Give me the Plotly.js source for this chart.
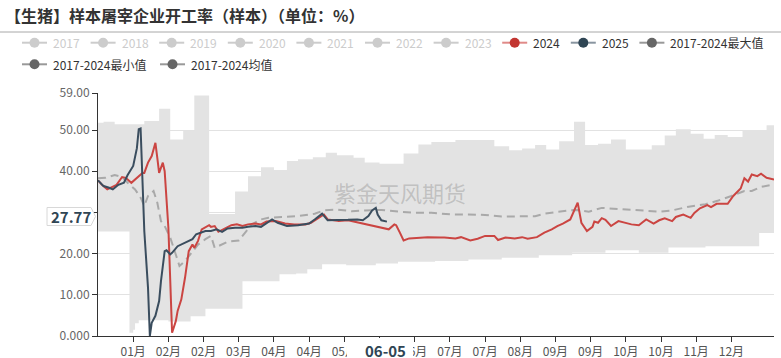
<!DOCTYPE html>
<html>
<head>
<meta charset="utf-8">
<script src="https://cdn.plot.ly/plotly-3.0.1.min.js"></script>
<style>html,body{margin:0;padding:0;background:#fff;}#chart{width:781px;height:358px;}</style>
</head>
<body>
<div id="chart"></div>
<script>
// ---- data (x = day of year, 0 = 01-01) ----
const tickDays = [19,38,57,76,95,114,133,152,171,190,209,228,247,266,285,304,323,342];
const tickLabels = ['01月','02月','02月','03月','04月','04月','05月','','06月','07月','07月','08月','09月','09月','10月','10月','11月','12月'];
const yTickVals = [0,10,20,30,40,50,59];
const yTickLabels = ['0.000','10.00','20.00','','40.00','50.00','59.00'];

const maxDays = [0,3,9,25,33,39,46,52,60,74,81,88,95,102,108,116,123,129,138,144,152,165,173,180,193,214,222,229,236,242,249,257,263,270,277,285,299,306,312,320,327,333,340,348,361,365];
const maxVals = [51.8,52.0,51.4,52.2,55.2,47.7,49.8,58.4,29.6,35.1,38.8,41.0,40.3,42.5,42.9,43.4,44.5,43.9,43.3,42.1,41.8,44.3,46.5,47.1,47.6,46.1,45.1,45.5,46.4,45.3,47.3,52.0,46.4,46.7,47.7,45.3,46.3,48.7,50.2,49.1,47.9,48.8,48.3,50.0,51.2,51.2];

const minDays = [0,17,19,20,22,38,50,58,78,98,107,113,121,134,150,162,182,200,218,238,256,274,292,308,328,357,365];
const minVals = [25.4,0.8,1.5,3.1,3.8,3.5,4.8,6.6,13.3,15.0,15.2,16.2,17.4,17.2,17.6,18.0,18.2,18.6,19.0,19.6,20.2,20.8,20.2,21.5,21.8,25.0,25.0];

const meanDays = [0,4,9,13,16,20,23,25,27,30,32,34,36,39,42,44,47,51,54,58,61,63,67,70,76,79,83,88,92,99,108,117,122,129,137,144,153,162,171,180,191,200,209,218,227,236,241,249,254,259,265,272,280,292,303,310,319,328,335,342,349,353,358,365];
const meanVals = [38.3,38.4,39.1,38.6,37.2,35.6,33.6,31.6,34.0,35.2,32.4,27.9,26.7,23.9,19.8,17.0,18.2,20.6,22.2,23.5,24.3,21.4,22.2,22.9,23.2,24.8,27.1,28.3,28.7,28.9,29.1,29.7,30.5,30.7,30.3,30.5,30.6,30.2,29.9,29.9,29.5,29.5,29.4,29.0,29.1,29.1,29.7,30.2,30.5,30.6,30.2,31.1,30.9,30.5,30.2,30.5,31.4,32.0,32.9,34.0,35.2,35.2,36.2,36.8];

const days2024 = [0,2,5,7,10,13,15,18,21,24,25,27,29,31,32,33,35,36,38,39,40,42,43,45,47,49,51,52,54,56,58,60,61,63,65,69,72,75,78,81,85,88,91,96,101,106,112,115,119,122,124,130,135,141,144,148,152,157,160,161,163,165,168,173,178,185,187,193,196,201,205,209,214,216,220,225,229,232,237,241,245,248,251,255,257,259,261,264,267,268,270,272,274,277,281,285,288,292,296,300,303,306,310,312,316,320,322,325,329,331,334,340,343,347,349,351,353,356,358,361,365];
const vals2024 = [37.8,36.8,35.6,36.0,36.7,38.6,38.4,37.2,38.4,39.6,39.6,42.1,43.7,46.9,43.3,39.6,42.1,40.0,26.3,11.7,0.8,3.6,6.1,8.9,14.2,20.6,22.2,21.4,23.1,25.9,26.3,26.9,26.5,26.7,25.3,26.3,26.9,27.1,26.7,27.1,27.3,27.1,27.8,27.9,27.3,27.1,27.1,27.5,28.7,29.5,28.3,27.9,28.1,27.5,27.1,26.7,26.3,25.9,27.1,26.9,25.1,23.2,23.7,23.9,24.0,23.9,23.9,23.7,24.0,23.2,23.6,24.3,24.3,23.3,23.9,23.7,24.0,23.6,24.0,25.1,25.9,26.7,27.3,28.3,30.3,32.4,27.5,25.5,26.5,27.8,27.5,28.6,28.2,26.7,27.9,27.5,27.1,26.9,28.3,27.3,28.1,28.6,27.9,28.9,29.5,28.7,29.9,31.0,31.8,31.3,32.1,32.1,34.0,35.8,38.3,37.5,39.2,38.8,39.4,38.4,38.0];

const days2025 = [0,3,6,8,11,14,16,19,21,22,23,24,25,27,28,29,31,33,34,36,37,39,40,43,45,48,51,53,56,58,61,64,67,70,74,78,81,85,88,91,94,97,102,108,114,117,121,124,129,135,140,143,146,148,150,151,153,156];
const vals2025 = [37.8,36.4,36.0,35.6,36.7,37.2,39.1,41.3,45.6,50.2,50.4,39.2,25.5,11.7,0.0,3.2,4.9,8.5,13.3,20.6,20.8,19.8,20.2,21.8,22.2,22.9,23.5,24.7,25.1,25.5,25.5,25.9,25.3,26.1,26.3,26.3,26.5,26.7,26.5,27.5,28.3,27.5,26.7,26.9,27.3,28.3,29.7,28.1,28.1,28.2,28.3,28.1,29.1,30.5,31.1,29.5,28.1,27.77];

const legendRow1 = ['2017','2018','2019','2020','2021','2022','2023','2024','2025','2017-2024最大值'];
const legendRow2 = ['2017-2024最小值','2017-2024均值'];

// ---- layout helpers (pixel -> paper) ----
const L = 98, R = 774, T = 93, B = 336;
const xp = px => (px - L) / (R - L);
const yp = py => (B - py) / (B - T);
const FONT = 'Noto Sans CJK SC, sans-serif';

const traces = [
  {x: minDays, y: minVals, mode: 'lines', line: {width: 0, shape: 'hv'}, hoverinfo: 'skip', showlegend: false},
  {x: maxDays, y: maxVals, mode: 'lines', line: {width: 0, shape: 'hv'}, fill: 'tonexty', fillcolor: '#e3e3e3', hoverinfo: 'skip', showlegend: false},
  {x: meanDays, y: meanVals, mode: 'lines', line: {color: '#a9a9a9', width: 2, dash: '8px,5px'}, showlegend: false},
  {x: days2024, y: vals2024, mode: 'lines', line: {color: '#cb4542', width: 2}, showlegend: false},
  {x: days2025, y: vals2025, mode: 'lines', line: {color: '#3a4d5e', width: 2}, showlegend: false}
];

const shapes = [];
const annotations = [];

// separator under title
shapes.push({type: 'line', xref: 'paper', yref: 'paper', x0: xp(0), x1: xp(781), y0: yp(32), y1: yp(32), line: {color: '#a8a8a8', width: 1}});

// legend
function legendItem(s, cy, label, lineColor, dotColor, textColor) {
  shapes.push({type: 'line', xref: 'paper', yref: 'paper', x0: xp(s), x1: xp(s + 25), y0: yp(cy), y1: yp(cy), line: {color: lineColor, width: 2}});
  const cx = s + 12.5;
  shapes.push({type: 'circle', xref: 'paper', yref: 'paper', x0: xp(cx - 5), x1: xp(cx + 5), y0: yp(cy + 5), y1: yp(cy - 5), fillcolor: dotColor, line: {width: 0}});
  annotations.push({xref: 'paper', yref: 'paper', x: xp(s + 29), y: yp(cy), xanchor: 'left', yanchor: 'middle', showarrow: false, text: label, font: {family: FONT, size: 12, color: textColor}});
}
legendRow1.forEach((lab, i) => {
  const s = 22 + 68.6 * i;
  if (i < 7) legendItem(s, 42.7, lab, '#cccccc', '#cccccc', '#cccccc');
  else if (i === 7) legendItem(s, 42.7, lab, '#e08a88', '#c23531', '#333333');
  else if (i === 8) legendItem(s, 42.7, lab, '#8995a0', '#2f4554', '#333333');
  else legendItem(s, 42.7, lab, '#999999', '#666666', '#333333');
});
legendItem(22, 64.3, legendRow2[0], '#999999', '#666666', '#333333');
legendItem(160, 64.3, legendRow2[1], '#999999', '#666666', '#333333');

// watermark
annotations.push({xref: 'paper', yref: 'paper', x: xp(400), y: yp(192), xanchor: 'center', yanchor: 'middle', showarrow: false, text: '紫金天风期货', font: {family: FONT, size: 22, color: 'rgba(150,150,150,0.45)'}});

// y axis pointer label (last 2025 value)
const p = [[47, 207.5], [91, 207.5], [95.5, 216.5], [91, 225.5], [47, 225.5]];
shapes.push({type: 'path', xref: 'paper', yref: 'paper', layer: 'above',
  path: 'M ' + p.map(q => xp(q[0]) + ',' + yp(q[1])).join(' L ') + ' Z',
  fillcolor: '#ffffff', line: {color: '#d8d8d8', width: 1}});
annotations.push({xref: 'paper', yref: 'paper', x: xp(70.5), y: yp(216.5), xanchor: 'center', yanchor: 'middle', showarrow: false, text: '<b>' + vals2025[vals2025.length - 1].toFixed(2) + '</b>', font: {family: FONT, size: 15, color: '#2f4554'}});

// x axis pointer label
annotations.push({xref: 'paper', yref: 'paper', x: xp(380), y: yp(348.5), xanchor: 'center', yanchor: 'middle', showarrow: false, text: ' ', width: 66, height: 21, bgcolor: '#ffffff', borderpad: 0, borderwidth: 0});
annotations.push({xref: 'paper', yref: 'paper', x: xp(385.5), y: yp(350.5), xanchor: 'center', yanchor: 'middle', showarrow: false, text: '<b>06-05</b>', font: {family: FONT, size: 15, color: '#2f4554'}});

const layout = {
  width: 781, height: 358,
  margin: {l: L, r: 781 - R, t: T, b: 358 - B, pad: 0},
  paper_bgcolor: '#ffffff', plot_bgcolor: '#ffffff',
  showlegend: false,
  font: {family: FONT},
  title: {text: '<b>【生猪】样本屠宰企业开工率（样本）（单位：%）</b>', font: {family: FONT, size: 16, color: '#333333'},
    xref: 'container', yref: 'container', x: 5 / 781, xanchor: 'left', y: 1 - 16 / 358, yanchor: 'middle'},
  xaxis: {range: [0, 365], tickmode: 'array', tickvals: tickDays, ticktext: tickLabels,
    ticks: 'outside', ticklen: 5, tickcolor: '#333', showline: true, linecolor: '#333', linewidth: 1,
    showgrid: false, zeroline: false, tickfont: {family: FONT, size: 12, color: '#555'}, fixedrange: true},
  yaxis: {range: [0, 59], tickmode: 'array', tickvals: yTickVals, ticktext: yTickLabels,
    ticks: 'outside', ticklen: 5, tickcolor: '#333', showline: true, linecolor: '#333', linewidth: 1,
    showgrid: true, gridcolor: '#e2e2e2', gridwidth: 1, zeroline: false,
    tickfont: {family: FONT, size: 12, color: '#666'}, fixedrange: true},
  shapes: shapes,
  annotations: annotations
};

Plotly.newPlot('chart', traces, layout, {staticPlot: true, displayModeBar: false});
</script>
</body>
</html>
